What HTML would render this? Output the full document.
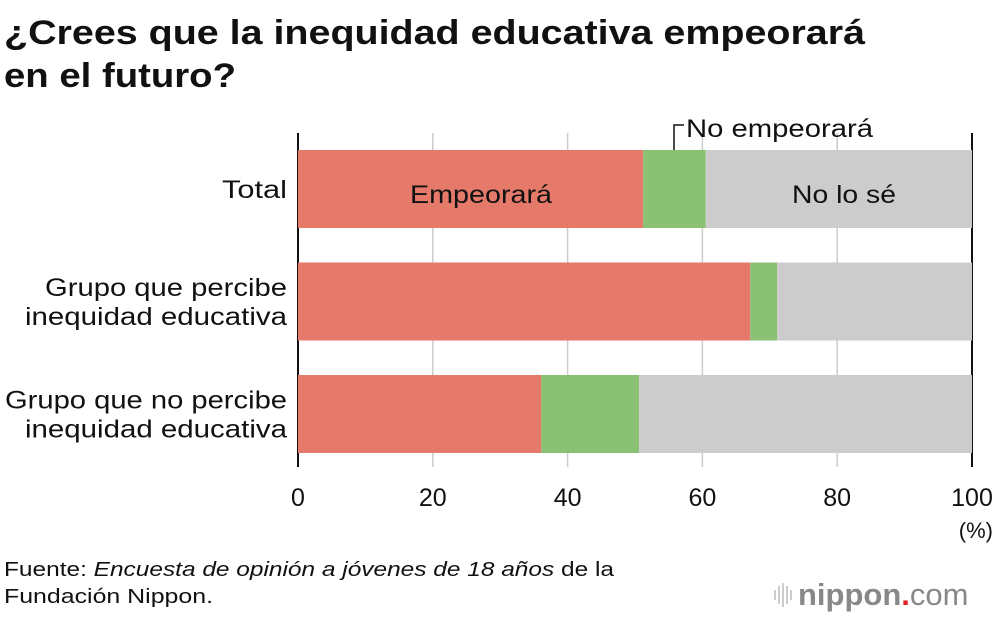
<!DOCTYPE html>
<html><head><meta charset="utf-8"><style>
body{margin:0;background:#fff;font-family:"Liberation Sans",Arial,sans-serif;}
svg text{font-family:"Liberation Sans",Arial,sans-serif;}
</style></head><body>
<svg id="chart" width="1000" height="616" viewBox="0 0 1000 616">
<text x="4" y="44" font-size="34" font-weight="bold" fill="#111" textLength="861" lengthAdjust="spacingAndGlyphs">¿Crees que la inequidad educativa empeorará</text>
<text x="4" y="87" font-size="34" font-weight="bold" fill="#111" textLength="232" lengthAdjust="spacingAndGlyphs">en el futuro?</text>
<g id="grid"></g>
<g id="bars"></g>
<g id="labels"></g>
<text x="410" y="203" font-size="25" fill="#111" textLength="142" lengthAdjust="spacingAndGlyphs">Empeorará</text>
<text x="792" y="203" font-size="25" fill="#111" textLength="104" lengthAdjust="spacingAndGlyphs">No lo sé</text>
<path d="M674 150 V125 H684" fill="none" stroke="#111" stroke-width="1.5"/>
<text x="686" y="137" font-size="25" fill="#111" textLength="187" lengthAdjust="spacingAndGlyphs">No empeorará</text>
<text x="993" y="538" font-size="22" fill="#111" text-anchor="end">(%)</text>
<text x="4" y="576" font-size="20" fill="#111" textLength="610" lengthAdjust="spacingAndGlyphs">Fuente: <tspan font-style="italic">Encuesta de opinión a jóvenes de 18 años</tspan> de la</text>
<text x="4" y="603" font-size="20" fill="#111" textLength="209" lengthAdjust="spacingAndGlyphs">Fundación Nippon.</text>
<g>
<g stroke="#bbb" stroke-width="1.5"><line x1="775" y1="590" x2="775" y2="600"/><line x1="779" y1="586" x2="779" y2="604"/><line x1="783" y1="583" x2="783" y2="607"/><line x1="787" y1="586" x2="787" y2="604"/><line x1="791" y1="590" x2="791" y2="600"/></g>
<text x="798" y="605" font-size="31" fill="#888" font-weight="bold">nippon<tspan fill="#e02020">.</tspan><tspan font-weight="normal">com</tspan></text>
</g>
</svg>
<script>
const categories=[["Total"],["Grupo que percibe","inequidad educativa"],["Grupo que no percibe","inequidad educativa"]];
const empeorara=[51.2,67.1,36.1];
const noEmpeorara=[9.3,4.0,14.5];
const noLoSe=[39.5,28.9,49.4];
const ticks=[0,20,40,60,80,100];
const NS="http://www.w3.org/2000/svg";
const x0=298,x1=972;
const xs=v=>x0+(x1-x0)*v/100;
const rowTop=i=>150+i*112.5;
const barH=78;
const labelW={"Total":65,"Grupo que percibe":242,"inequidad educativa":262,"Grupo que no percibe":282};
function mk(tag,attrs,parent){const e=document.createElementNS(NS,tag);for(const k in attrs)e.setAttribute(k,attrs[k]);parent.appendChild(e);return e;}
const grid=document.getElementById('grid'),bars=document.getElementById('bars'),labels=document.getElementById('labels');
ticks.forEach((t,i)=>{
 const end=(i===0||i===ticks.length-1);
 const l=mk('line',{x1:xs(t),x2:xs(t),y1:133,y2:467,stroke:end?'#111':'#ccc','stroke-width':end?2:1.5},grid);
 
 
 const tx=mk('text',{x:xs(t),y:506,'font-size':25,'text-anchor':'middle',fill:'#111'},labels);
 tx.textContent=t;
 
 
});
const series=[[empeorara,'#e5796a','empeorara'],[noEmpeorara,'#8bc172','no-empeorara'],[noLoSe,'#cccccc','no-lo-se']];
categories.forEach((c,i)=>{
 let acc=0;
 series.forEach(([arr,col,nm])=>{
  const r=mk('rect',{x:xs(acc),y:rowTop(i),width:xs(acc+arr[i])-xs(acc),height:barH,fill:col},bars);
  
  
  acc+=arr[i];
 });
 const cy=rowTop(i)+barH/2;
 c.forEach((line,j)=>{
  const y=cy+9+(j-(c.length-1)/2)*29;
  const w=labelW[line];
  const t=mk('text',{x:287-w,y:y,'font-size':25,fill:'#111',textLength:w,lengthAdjust:'spacingAndGlyphs'},labels);
  t.textContent=line;
  
  
 });
});
</script>
</body></html>
